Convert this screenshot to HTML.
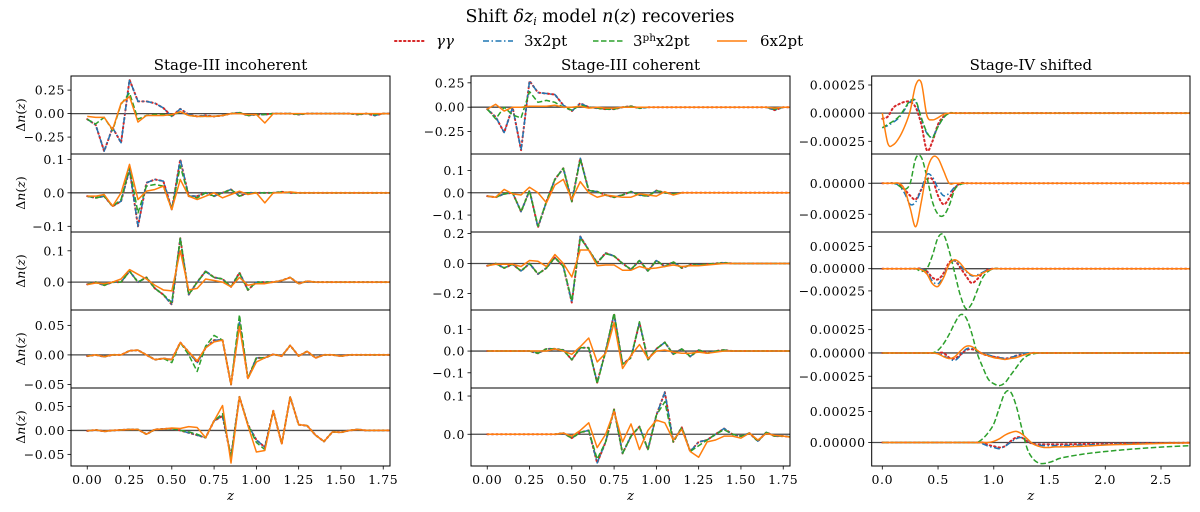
<!DOCTYPE html>
<html><head><meta charset="utf-8">
<style>
html,body{margin:0;padding:0;background:#fff;}
svg{display:block;font-family:"DejaVu Serif","Liberation Serif",serif;}
</style></head>
<body>
<svg id="fig" width="1200" height="512" viewBox="0 0 1200 512" xmlns="http://www.w3.org/2000/svg">
  <text x="600" y="22" text-anchor="middle" font-size="17.5" fill="#000">Shift <tspan font-style="italic">δz</tspan><tspan font-size="11" font-style="italic" dy="3">i</tspan><tspan dy="-3"> model </tspan><tspan font-style="italic">n</tspan>(<tspan font-style="italic">z</tspan>) recoveries</text>
  <g font-size="15">
    <g>
      <line x1="395" y1="41" x2="425" y2="41" stroke="#d62728" stroke-width="2" stroke-dasharray="1.5 3" stroke-linecap="round"/>
      <text x="436" y="46" font-style="italic">γγ</text>
    </g>
    <g>
      <line x1="483" y1="41" x2="513" y2="41" stroke="#1f77b4" stroke-width="1.6" stroke-dasharray="6 2.5 1.5 2.5"/>
      <text x="524" y="46">3x2pt</text>
    </g>
    <g>
      <line x1="593" y1="41" x2="623" y2="41" stroke="#2ca02c" stroke-width="1.6" stroke-dasharray="5.5 2.5"/>
      <text x="633" y="46">3<tspan font-size="10.5" dy="-5">ph</tspan><tspan dy="5">x2pt</tspan></text>
    </g>
    <g>
      <line x1="717" y1="41" x2="747" y2="41" stroke="#ff7f0e" stroke-width="1.6"/>
      <text x="760" y="46">6x2pt</text>
    </g>
  </g>
  <g id="panels"></g>
</svg>
<script>
// ---------- data ----------
const zGrid = [0,0.05,0.1,0.15,0.2,0.25,0.3,0.35,0.4,0.45,0.5,0.55,0.6,0.65,0.7,0.75,0.8,0.85,0.9,0.95,1.0,1.05,1.1,1.15,1.2,1.25,1.3,1.35,1.4,1.45,1.5,1.55,1.6,1.65,1.7,1.75,1.8];
const zGridS4 = [0,0.05,0.1,0.15,0.2,0.25,0.3,0.35,0.4,0.45,0.5,0.55,0.6,0.65,0.7,0.75,0.8,0.85,0.9,0.95,1.0,1.05,1.1,1.15,1.2,1.25,1.3,1.35,1.4,1.45,1.5,1.55,1.6,1.8,2.0,2.2,2.4,2.6,2.8];

// Stage-III incoherent
const c1r1GG = [-0.06,-0.12,-0.40,-0.15,-0.31,0.36,0.13,0.13,0.11,0.06,-0.03,0.05,-0.01,-0.03,-0.02,-0.03,-0.02,0,0.01,-0.02,-0.01,-0.01,0,0,0,-0.01,0,0,0,0,0,0,-0.01,0,-0.02,0,0];
const c1r1B  = [-0.06,-0.12,-0.40,-0.15,-0.31,0.36,0.13,0.13,0.11,0.06,-0.03,0.05,-0.01,-0.03,-0.02,-0.03,-0.02,0,0.01,-0.02,-0.01,-0.01,0,0,0,-0.01,0,0,0,0,0,0,-0.01,0,-0.02,0,0];
const c1r1G  = [-0.06,-0.11,-0.04,-0.18,0.10,0.22,-0.06,-0.02,-0.01,-0.01,-0.02,0.02,-0.02,-0.03,-0.03,-0.03,-0.02,0,0.01,-0.02,-0.01,-0.01,0,0,0,-0.01,0,0,0,0,0,0,-0.01,0,-0.01,0,0];
const c1r1O  = [-0.03,-0.04,-0.04,-0.17,0.11,0.18,-0.09,-0.02,-0.02,-0.02,-0.01,0.02,-0.02,-0.03,-0.03,-0.03,-0.02,0,0,-0.01,-0.01,-0.10,0,0,0,0,0,0,0,0,0,0,0,0,0,0,0];

const c1r2GG = [-0.01,-0.015,-0.01,-0.04,-0.025,0.07,-0.10,0.03,0.04,0.035,-0.05,0.10,-0.01,-0.01,0,-0.01,0,0.01,-0.01,0,0,0,0,0.003,0,0,0,0,0,0,0,0,0,0,0,0,0];
const c1r2B  = [-0.01,-0.015,-0.01,-0.04,-0.025,0.07,-0.10,0.03,0.04,0.035,-0.05,0.10,-0.01,-0.01,0,-0.01,0,0.01,-0.01,0,0,0,0,0.003,0,0,0,0,0,0,0,0,0,0,0,0,0];
const c1r2G  = [-0.01,-0.015,-0.01,-0.04,-0.02,0.075,-0.06,0.02,0.025,0.02,-0.05,0.08,-0.01,-0.015,0,-0.01,0,0.01,-0.01,0,0,0,0,0.003,0,0,0,0,0,0,0,0,0,0,0,0,0];
const c1r2O  = [-0.01,-0.01,-0.005,-0.04,0,0.085,-0.02,0.005,0.01,0.02,-0.05,0.04,-0.01,-0.02,-0.01,0,-0.015,-0.005,0.005,-0.005,0,-0.03,0,0,0.003,0,0,0,0,0,0,0,0,0,0,0,0];

const c1r3GG = [-0.007,0,-0.01,0,0,0.035,0,0.015,-0.02,-0.04,-0.072,0.14,-0.04,0,0.035,0.015,0.01,-0.015,0.03,-0.025,0,0,0,0.005,0.015,-0.005,0.003,0,0,0,0,0,0,0,0,0,0];
const c1r3B  = [-0.007,0,-0.01,0,0,0.035,0,0.015,-0.02,-0.04,-0.072,0.14,-0.04,0,0.035,0.015,0.01,-0.015,0.03,-0.025,0,0,0,0.005,0.015,-0.005,0.003,0,0,0,0,0,0,0,0,0,0];
const c1r3G  = [-0.007,0,-0.01,0,0,0.035,0,0.015,-0.02,-0.04,-0.065,0.14,-0.04,0,0.033,0.015,0.01,-0.015,0.028,-0.025,0,0,0,0.005,0.015,-0.005,0.003,0,0,0,0,0,0,0,0,0,0];
const c1r3O  = [-0.008,-0.003,-0.005,0,0.01,0.04,0.025,0.01,-0.01,-0.025,-0.028,0.10,-0.025,-0.02,0.01,0.005,0,-0.015,0.015,-0.01,-0.005,-0.005,0,0.005,0.015,-0.005,0.003,0,0,0,0,0,0,0,0,0,0];

const c1r4GG = [-0.002,0,-0.003,0,0,0.007,0.008,0,-0.008,-0.006,-0.008,0.021,0.005,-0.013,0.012,0.025,0.025,-0.05,0.055,-0.04,-0.005,-0.005,0.001,-0.002,0.016,-0.002,0.006,-0.005,0,0,-0.002,0,0,0,0,0,0];
const c1r4B  = [-0.002,0,-0.003,0,0,0.007,0.008,0,-0.008,-0.006,-0.008,0.021,0.005,-0.013,0.012,0.025,0.025,-0.05,0.055,-0.04,-0.005,-0.005,0.001,-0.002,0.016,-0.002,0.006,-0.005,0,0,-0.002,0,0,0,0,0,0];
const c1r4G  = [-0.002,0,-0.003,0,0,0.007,0.008,0,-0.008,-0.006,-0.013,0.021,0,-0.028,0.015,0.033,0.025,-0.05,0.068,-0.04,-0.005,-0.005,0.001,-0.002,0.016,-0.002,0.006,-0.005,0,0,-0.002,0,0,0,0,0,0];
const c1r4O  = [-0.002,0,-0.003,0,0,0.007,0.008,0,-0.008,-0.006,-0.008,0.021,0.005,-0.01,0.012,0.022,0.025,-0.05,0.048,-0.04,-0.012,-0.005,0.001,-0.002,0.016,-0.002,0.006,-0.005,0,0,-0.002,0,0,0,0,0,0];

const c1r5GG = [-0.001,0.001,-0.002,0,0.001,0.002,0.002,-0.008,0.002,0.003,0.004,0,-0.005,-0.01,-0.015,0.02,0.03,-0.055,0.07,0.012,-0.02,-0.035,0.041,-0.028,0.07,0.012,0.01,-0.01,-0.023,-0.003,-0.004,0,0.002,0,0,0,0];
const c1r5B  = [-0.001,0.001,-0.002,0,0.001,0.002,0.002,-0.008,0.002,0.003,0.004,0,-0.005,-0.01,-0.015,0.02,0.03,-0.055,0.07,0.012,-0.02,-0.035,0.041,-0.028,0.07,0.012,0.01,-0.01,-0.023,-0.003,-0.004,0,0.002,0,0,0,0];
const c1r5G  = [-0.001,0.001,-0.002,0,0.001,0.002,0.002,-0.008,0.002,0.003,0.004,0,-0.003,-0.008,-0.015,0.02,0.035,-0.055,0.07,0.012,-0.025,-0.04,0.041,-0.028,0.07,0.012,0.01,-0.01,-0.023,-0.003,-0.004,0,0.002,0,0,0,0];
const c1r5O  = [-0.001,0.001,-0.002,0,0.001,0.002,0.002,-0.008,0.002,0.003,0.005,0.004,0.008,0.006,-0.015,0.02,0.052,-0.068,0.07,0.01,-0.045,-0.042,0.041,-0.028,0.07,0.012,0.01,-0.01,-0.023,-0.003,-0.004,0,0.002,0,0,0,0];

// Stage-III coherent
const c2r1GG = [-0.02,-0.1,-0.26,0,-0.44,0.27,0.15,0.14,0.13,0.02,-0.04,0.04,0,-0.01,-0.02,-0.02,0,0.01,-0.01,0,0,0,0,0,0,0,0,0,0,0,0,0,0,0,-0.03,0,0];
const c2r1B  = [-0.02,-0.1,-0.26,0,-0.44,0.27,0.15,0.14,0.13,0.02,-0.04,0.04,0,-0.01,-0.02,-0.02,0,0.01,-0.01,0,0,0,0,0,0,0,0,0,0,0,0,0,0,0,-0.03,0,0];
const c2r1G  = [-0.02,-0.12,0,-0.08,-0.11,0.16,0.05,0.07,0.05,0,-0.03,0.02,0,-0.01,-0.02,-0.02,0,0.01,-0.01,0,0,0,0,0,0,0,0,0,0,0,0,0,0,0,-0.02,0,0];
const c2r1O  = [-0.02,0.03,-0.04,0,0,0.01,0.01,0.01,0.02,0,0,0.01,-0.01,0,-0.01,-0.01,0,0,0,0,0,0,0,0,0,0,0,0,0,0,0,0,0,0,-0.01,0,0];

const c2r2GG = [-0.015,-0.02,-0.005,0,-0.085,0.01,-0.155,-0.04,0.06,0.11,-0.04,0.155,0.01,0.005,-0.01,-0.02,-0.01,0.005,-0.01,-0.015,0.01,0,-0.005,0,0,0,0,0,0,0,0,0,0,0,0,0,0];
const c2r2B  = [-0.015,-0.02,-0.005,0,-0.085,0.01,-0.155,-0.04,0.06,0.11,-0.04,0.155,0.01,0.005,-0.01,-0.02,-0.01,0.005,-0.01,-0.015,0.01,0,-0.005,0,0,0,0,0,0,0,0,0,0,0,0,0,0];
const c2r2G  = [-0.015,-0.02,-0.005,0,-0.085,0.01,-0.15,-0.04,0.06,0.11,-0.04,0.15,0.01,0.005,-0.01,-0.02,-0.01,0.005,-0.01,-0.015,0.01,0,-0.005,0,0,0,0,0,0,0,0,0,0,0,0,0,0];
const c2r2O  = [-0.015,-0.02,0.015,-0.005,-0.01,0.025,0,-0.045,0.035,0.06,-0.03,0.05,0,-0.02,-0.01,-0.015,-0.02,-0.02,-0.005,-0.01,-0.015,0.005,-0.01,0,0,0,0,0,0,0,0,0,0,0,0,0,0];

const c2r3GG = [-0.015,0,-0.03,-0.005,-0.05,0,-0.07,-0.03,0.04,-0.02,-0.26,0.18,0.09,0.005,0.07,0.05,0,-0.04,0.02,-0.05,0.02,-0.02,0.01,-0.03,-0.01,-0.01,-0.005,0,0.005,0,0,0,0,0,0,0,0];
const c2r3B  = [-0.015,0,-0.03,-0.005,-0.05,0,-0.07,-0.03,0.04,-0.02,-0.26,0.18,0.09,0.005,0.07,0.05,0,-0.04,0.02,-0.05,0.02,-0.02,0.01,-0.03,-0.01,-0.01,-0.005,0,0.005,0,0,0,0,0,0,0,0];
const c2r3G  = [-0.015,0,-0.03,-0.005,-0.05,0,-0.07,-0.03,0.04,-0.02,-0.25,0.17,0.09,0.005,0.065,0.05,0,-0.04,0.02,-0.05,0.02,-0.02,0.01,-0.03,-0.01,-0.01,-0.005,0,0.005,0,0,0,0,0,0,0,0];
const c2r3O  = [-0.015,-0.005,-0.005,-0.005,-0.02,0.02,0.015,-0.02,0.06,0,-0.09,0.09,0.09,-0.015,-0.01,-0.01,-0.045,-0.045,-0.02,-0.035,-0.03,-0.02,-0.01,-0.02,-0.015,-0.015,-0.01,-0.005,0,0,0,0,0,0,0,0,0];

const c2r4GG = [0,0,0,0,0,0,-0.01,0.01,0.01,0.005,-0.04,0.015,0.015,-0.145,0,0.17,-0.06,-0.03,0.13,-0.04,0.01,0.04,-0.015,0.01,-0.025,0.005,-0.01,0,0.005,0,0,0,0,0,0,0,0];
const c2r4B  = [0,0,0,0,0,0,-0.01,0.01,0.01,0.005,-0.04,0.015,0.015,-0.145,0,0.17,-0.06,-0.03,0.13,-0.04,0.01,0.04,-0.015,0.01,-0.025,0.005,-0.01,0,0.005,0,0,0,0,0,0,0,0];
const c2r4G  = [0,0,0,0,0,0,-0.01,0.01,0.01,0.005,-0.04,0.015,0.015,-0.15,0,0.175,-0.06,-0.03,0.135,-0.04,0.01,0.04,-0.015,0.01,-0.025,0.005,-0.01,0,0.005,0,0,0,0,0,0,0,0];
const c2r4O  = [0,0,0,0,0,0,0,0,0.01,0,-0.015,0.02,0.06,-0.05,-0.01,0.13,-0.08,-0.02,0.03,-0.035,0,0.005,-0.005,-0.01,-0.01,-0.005,-0.01,-0.005,0,0,0,0,0,0,0,0,0];

const c2r5GG = [0,0,0,0,0,0,0,0,0,0.003,-0.01,0.005,0.01,-0.075,-0.02,0.065,-0.05,-0.005,0.02,-0.04,0.05,0.11,-0.02,0.018,-0.045,-0.02,-0.015,0,0.015,0,-0.005,0.003,-0.018,0.005,-0.005,-0.005,-0.007];
const c2r5B  = [0,0,0,0,0,0,0,0,0,0.003,-0.01,0.005,0.01,-0.075,-0.02,0.065,-0.05,-0.005,0.02,-0.04,0.05,0.11,-0.02,0.018,-0.045,-0.02,-0.015,0,0.015,0,-0.005,0.003,-0.018,0.005,-0.005,-0.005,-0.007];
const c2r5G  = [0,0,0,0,0,0,0,0,0,0.003,-0.01,0.005,0.01,-0.065,-0.02,0.065,-0.05,-0.005,0.02,-0.04,0.05,0.085,-0.02,0.018,-0.045,-0.03,-0.015,0,0.012,0,-0.005,0.003,-0.018,0.005,-0.005,-0.005,-0.007];
const c2r5O  = [0,0,0,0,0,0,0,0,0,0.003,-0.005,0.01,0.03,-0.035,0,0.06,-0.02,0.027,-0.04,0.01,0.037,0.03,-0.015,0.013,-0.045,-0.06,-0.02,-0.015,-0.005,-0.005,-0.01,0.003,-0.015,0.002,-0.003,-0.005,-0.008];

// Stage-IV shifted (units of 1e-5)
const c3r1GG = [-5,-3,5,8,10,10,5,-10,-33,-25, -10,-3,0,0,0,0,0,0,0,0, 0,0,0,0,0,0,0,0,0,0, 0,0,0,0,0,0,0,0,0];
const c3r1B  = [-13,-11,-8,-4,3,10,10,-5,-18,-21, -12,-4,0,0,0,0,0,0,0,0, 0,0,0,0,0,0,0,0,0,0, 0,0,0,0,0,0,0,0,0];
const c3r1G  = [-13,-10,-7,-3,4,11,11,-4,-17,-22, -12,-4,0,0,0,0,0,0,0,0, 0,0,0,0,0,0,0,0,0,0, 0,0,0,0,0,0,0,0,0];
const c3r1O  = [0,-27,-28,-22,-12,2,25,27,-2,-6, -4,-1,0,0,0,0,0,0,0,0, 0,0,0,0,0,0,0,0,0,0, 0,0,0,0,0,0,0,0,0];

const c3r2GG = [0,0,0,-1,-5,-10,-13,-5,3,3, -10,-17,-12,-4,0,0,0,0,0,0, 0,0,0,0,0,0,0,0,0,0, 0,0,0,0,0,0,0,0,0];
const c3r2B  = [0,0,0,-2,-8,-17,-15,-5,7,5, -4,-10,-8,-3,0,0,0,0,0,0, 0,0,0,0,0,0,0,0,0,0, 0,0,0,0,0,0,0,0,0];
const c3r2G  = [0,0,0,-2,-5,0,20,21,5,-15, -25,-26,-18,-5,-1,0,0,0,0,0, 0,0,0,0,0,0,0,0,0,0, 0,0,0,0,0,0,0,0,0];
const c3r2O  = [0,0,0,0,-5,-20,-35,-15,10,21, 20,10,0,0,0,0,0,0,0,0, 0,0,0,0,0,0,0,0,0,0, 0,0,0,0,0,0,0,0,0];

const c3r3GG = [0,0,0,0,0,0,0,0,-3,-10, -12,-5,7,9,1,-8,-16,-12,-5,-1, 0,0,0,0,0,0,0,0,0,0, 0,0,0,0,0,0,0,0,0];
const c3r3B  = [0,0,0,0,0,0,0,0,-4,-14, -17,-8,5,9,3,-3,-8,-7,-4,-1, 0,0,0,0,0,0,0,0,0,0, 0,0,0,0,0,0,0,0,0];
const c3r3G  = [0,0,0,0,0,0,0,-3,0,15, 35,38,20,-5,-30,-45,-40,-25,-10,-3, 0,0,0,0,0,0,0,0,0,0, 0,0,0,0,0,0,0,0,0];
const c3r3O  = [0,0,0,0,0,0,0,-1,-6,-17, -20,-10,5,10,6,-2,-7,-8,-5,-2, 0,0,0,0,0,0,0,0,0,0, 0,0,0,0,0,0,0,0,0];

const c3r4GG = [0,0,0,0,0,0,0,0,0,0, 0,0,-5,-6,-2,3,4,2,-1,-3, -4,-5,-6,-5,-3,-2,-1,0,0,0, 0,0,0,0,0,0,0,0,0];
const c3r4B  = [0,0,0,0,0,0,0,0,0,0, 0,-3,-6,-8,-3,4,5,2,-1,-2, -4,-5,-6,-5,-3,-1,0,0,0,0, 0,0,0,0,0,0,0,0,0];
const c3r4G  = [0,0,0,0,0,0,0,0,0,0, 3,10,20,32,41,38,22,0,-15,-28, -33,-35,-32,-24,-16,-8,-3,-1,0,0, 0,0,0,0,0,0,0,0,0];
const c3r4O  = [0,0,0,0,0,0,0,0,0,0, -1,-4,-6,-4,2,7,7,3,-1,-3, -5,-6,-7,-6,-5,-3,-1,0,0,0, 0,0,0,0,0,0,0,0,0];

const c3r5GG = [0,0,0,0,0,0,0,0,0,0, 0,0,0,0,0,0,0,0,0,-2, -3,-4,-3,1,4,4,1,-1,-1.5,-1.5, -1.5,-1.5,-1.5,-1.2,-1,-0.8,-0.5,-0.3,-0.2];
const c3r5B  = [0,0,0,0,0,0,0,0,0,0, 0,0,0,0,0,0,0,0,-1,-3, -4,-5,-3,0,3,4,2,-1,-2,-2.5, -2.5,-2.5,-2.5,-2,-1.5,-1,-0.7,-0.4,-0.2];
const c3r5G  = [0,0,0,0,0,0,0,0,0,0, 0,0,0,0,0,0,0,0,3,8, 15,28,40,41,30,12,-5,-13,-16.5,-17, -16,-14.5,-12.6,-9.4,-7.3,-5.6,-4.3,-3.2,-2.4];
const c3r5O  = [0,0,0,0,0,0,0,0,0,0, 0,0,0,0,0,0,0,0,0,0, 1,3,6,8,9,7,3,-1,-3,-4, -4,-3.5,-3.5,-3,-2,-1.5,-1,-0.5,-0.3];

// tick values / labels
const xTicksS3 = [0,0.25,0.5,0.75,1.0,1.25,1.5,1.75];
const xTickLabelsS3 = ["0.00","0.25","0.50","0.75","1.00","1.25","1.50","1.75"];
const xTicksS4 = [0,0.5,1.0,1.5,2.0,2.5];
const xTickLabelsS4 = ["0.0","0.5","1.0","1.5","2.0","2.5"];
const yTicksA = [0.25,0,-0.25]; const yLabA = ["0.25","0.00","−0.25"];
const yTicksB = [0.1,0,-0.1];   const yLabB = ["0.1","0.0","−0.1"];
const yTicksC = [0.1,0];        const yLabC = ["0.1","0.0"];
const yTicksD = [0.05,0,-0.05]; const yLabD = ["0.05","0.00","−0.05"];
const yTicksE = [0.2,0,-0.2];   const yLabE = ["0.2","0.0","−0.2"];
const yTicksF = [25,0,-25];     const yLabF = ["0.00025","0.00000","−0.00025"];
const yTicksG = [0,-25];        const yLabG = ["0.00000","−0.00025"];
const yTicksH = [25,0];         const yLabH = ["0.00025","0.00000"];

// ---------- layout ----------
const NS = "http://www.w3.org/2000/svg";
const root = document.getElementById('panels');
const rowTops = [76,154,232,310,388,466];
const cols = [
  {x0:71, x1:390, dom:[-0.096,1.79], z:zGrid, smooth:false, title:"Stage-III incoherent", xt:xTicksS3, xl:xTickLabelsS3},
  {x0:471, x1:790, dom:[-0.096,1.79], z:zGrid, smooth:false, title:"Stage-III coherent", xt:xTicksS3, xl:xTickLabelsS3},
  {x0:871.7, x1:1190, dom:[-0.095,2.76], z:zGridS4, smooth:true, title:"Stage-IV shifted", xt:xTicksS4, xl:xTickLabelsS4}
];
const panels = [
  [ {y:[-0.43,0.40],t:yTicksA,l:yLabA,s:[c1r1GG,c1r1B,c1r1G,c1r1O]},
    {y:[-0.117,0.116],t:yTicksB,l:yLabB,s:[c1r2GG,c1r2B,c1r2G,c1r2O]},
    {y:[-0.089,0.16],t:yTicksC,l:yLabC,s:[c1r3GG,c1r3B,c1r3G,c1r3O]},
    {y:[-0.056,0.076],t:yTicksD,l:yLabD,s:[c1r4GG,c1r4B,c1r4G,c1r4O]},
    {y:[-0.0743,0.0886],t:yTicksD,l:yLabD,s:[c1r5GG,c1r5B,c1r5G,c1r5O]} ],
  [ {y:[-0.48,0.32],t:yTicksA,l:yLabA,s:[c2r1GG,c2r1B,c2r1G,c2r1O]},
    {y:[-0.176,0.174],t:yTicksB,l:yLabB,s:[c2r2GG,c2r2B,c2r2G,c2r2O]},
    {y:[-0.31,0.21],t:yTicksE,l:yLabE,s:[c2r3GG,c2r3B,c2r3G,c2r3O]},
    {y:[-0.17,0.189],t:yTicksB,l:yLabB,s:[c2r4GG,c2r4B,c2r4G,c2r4O]},
    {y:[-0.083,0.121],t:yTicksC,l:yLabC,s:[c2r5GG,c2r5B,c2r5G,c2r5O]} ],
  [ {y:[-36.3,33],t:yTicksF,l:yLabF,s:[c3r1GG,c3r1B,c3r1G,c3r1O]},
    {y:[-39.3,23.6],t:yTicksG,l:yLabG,s:[c3r2GG,c3r2B,c3r2G,c3r2O]},
    {y:[-46.5,41.3],t:yTicksF,l:yLabF,s:[c3r3GG,c3r3B,c3r3G,c3r3O]},
    {y:[-37.6,46.1],t:yTicksF,l:yLabF,s:[c3r4GG,c3r4B,c3r4G,c3r4O]},
    {y:[-19,44.1],t:yTicksH,l:yLabH,s:[c3r5GG,c3r5B,c3r5G,c3r5O]} ]
];
const styles = [
  {name:'gg', stroke:'#d62728', w:2, dash:'1.5 3', cap:'round'},
  {name:'3x2pt', stroke:'#1f77b4', w:1.5, dash:'6 2.5 1.5 2.5', cap:'butt'},
  {name:'3phx2pt', stroke:'#2ca02c', w:1.5, dash:'5.5 2.5', cap:'butt'},
  {name:'6x2pt', stroke:'#ff7f0e', w:1.5, dash:'', cap:'butt'}
];

function mk(tag, attrs, parent){
  const e = document.createElementNS(NS, tag);
  for (const k in attrs) e.setAttribute(k, attrs[k]);
  parent.appendChild(e);
  return e;
}
function linPath(pts){ return pts.map((p,i)=>(i?'L':'M')+p[0].toFixed(2)+','+p[1].toFixed(2)).join(''); }
function smoothPath(pts){
  let d = 'M'+pts[0][0].toFixed(2)+','+pts[0][1].toFixed(2);
  for (let i=0;i<pts.length-1;i++){
    const p0=pts[Math.max(0,i-1)], p1=pts[i], p2=pts[i+1], p3=pts[Math.min(pts.length-1,i+2)];
    const c1x=p1[0]+(p2[0]-p0[0])/6, c1y=p1[1]+(p2[1]-p0[1])/6;
    const c2x=p2[0]-(p3[0]-p1[0])/6, c2y=p2[1]-(p3[1]-p1[1])/6;
    d += 'C'+c1x.toFixed(2)+','+c1y.toFixed(2)+' '+c2x.toFixed(2)+','+c2y.toFixed(2)+' '+p2[0].toFixed(2)+','+p2[1].toFixed(2);
  }
  return d;
}

cols.forEach((c, ci) => {
  const xs = z => c.x0 + (z - c.dom[0]) / (c.dom[1]-c.dom[0]) * (c.x1 - c.x0);
  const colG = mk('g', {}, root);
  
  
  const tt = mk('text', {x:(c.x0+c.x1)/2, y:70, 'text-anchor':'middle', 'font-size':15}, colG);
  
  
  tt.textContent = c.title;

  panels[ci].forEach((p, ri) => {
    const top = rowTops[ri], bot = rowTops[ri+1];
    const ys = v => bot - (v - p.y[0]) / (p.y[1]-p.y[0]) * (bot - top);
    const g = mk('g', {}, colG);
    
    
    const cid = 'clip' + ci + ri;
    const cp = mk('clipPath', {id:cid}, g);
    mk('rect', {x:c.x0, y:top, width:c.x1-c.x0, height:bot-top}, cp);
    const zl = mk('line', {x1:c.x0, x2:c.x1, y1:ys(0), y2:ys(0), stroke:'#4a4a4a', 'stroke-width':1.3}, g);
    
    
    const sg = mk('g', {'clip-path':'url(#'+cid+')'}, g);
    p.s.forEach((arr, si) => {
      const st = styles[si];
      const pts = arr.map((v,i)=>[xs(c.z[i]), ys(v)]);
      const path = mk('path', {d: c.smooth ? smoothPath(pts) : linPath(pts), fill:'none', stroke:st.stroke, 'stroke-width':st.w, 'stroke-linecap':st.cap, 'stroke-linejoin':'round'}, sg);
      if (st.dash) path.setAttribute('stroke-dasharray', st.dash);
      
      
    });
    const fr = mk('rect', {x:c.x0, y:top, width:c.x1-c.x0, height:bot-top, fill:'none', stroke:'#000', 'stroke-width':1}, g);
    
    
    p.t.forEach((tv, ti) => {
      const y = ys(tv);
      mk('line', {x1:c.x0-3.5, x2:c.x0, y1:y, y2:y, stroke:'#000', 'stroke-width':0.8}, g);
      const lab = mk('text', {x:c.x0-6, y:y+4.5, 'text-anchor':'end', 'font-size':12.5, 'letter-spacing':0.6}, g);
      
      
      lab.textContent = p.l[ti];
    });
    if (ci === 0) {
      const cy = (top+bot)/2;
      const yl = mk('text', {x:25, y:cy, 'text-anchor':'middle', 'font-size':12.5, transform:'rotate(-90 25 '+cy+')'}, g);
      
      
      yl.innerHTML = 'Δ<tspan font-style="italic">n</tspan>(<tspan font-style="italic">z</tspan>)';
    }
    if (ri === 4) {
      c.xt.forEach((xv, xi) => {
        const x = xs(xv);
        mk('line', {x1:x, x2:x, y1:bot, y2:bot+3.5, stroke:'#000', 'stroke-width':0.8}, g);
        const lab = mk('text', {x:x, y:bot+18, 'text-anchor':'middle', 'font-size':12.5, 'letter-spacing':0.6}, g);
        
        
        lab.textContent = c.xl[xi];
      });
      const xl = mk('text', {x:(c.x0+c.x1)/2, y:bot+34, 'text-anchor':'middle', 'font-size':13, 'font-style':'italic'}, g);
      
      
      xl.textContent = 'z';
    }
  });
});
</script>
</body></html>
